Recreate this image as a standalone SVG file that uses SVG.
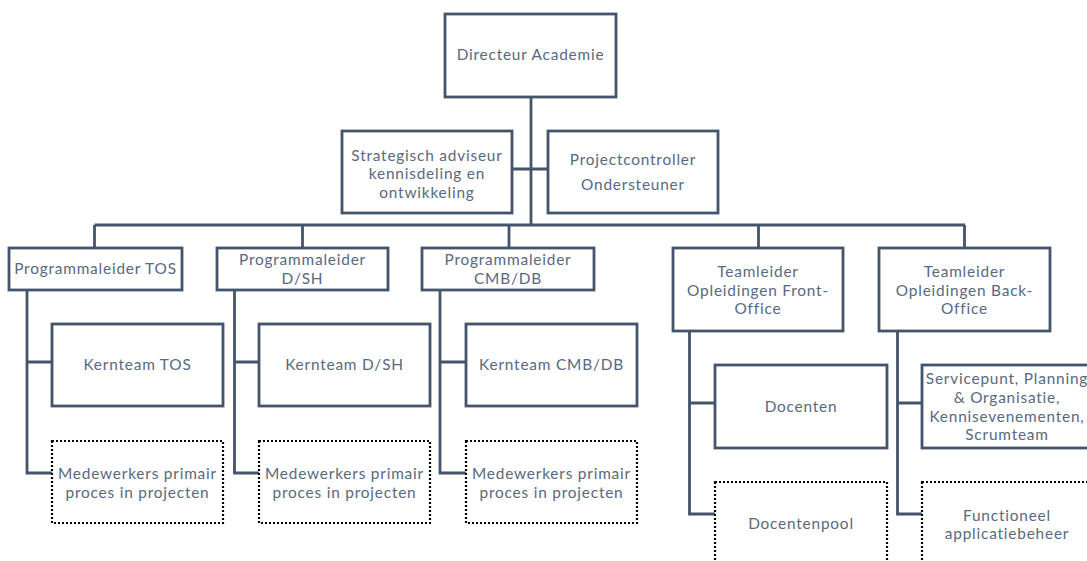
<svg xmlns="http://www.w3.org/2000/svg" width="1087" height="561" viewBox="0 0 1087 561">
<style>
.box{fill:#fff;stroke:#44546A;stroke-width:2.8}
.dot{fill:#fff;stroke:#000;stroke-width:2.2;stroke-dasharray:2 2}
.ln{fill:none;stroke:#44546A;stroke-width:2.8}
text{font-family:Lato,"Open Sans",sans-serif;font-size:15.4px;letter-spacing:0.8px;fill:#59697F;text-anchor:middle}
</style>
<rect width="1087" height="561" fill="#fff"/>
<g id="connectors">
<path class="ln" d="M531 97V226M512 169H548M94.5 225H965M94.5 225V248M302.5 225V248M509 225V248M758.5 225V248M964.5 225V248"/>
<path class="ln" d="M27 290V473H52M27 362H52"/>
<path class="ln" d="M234.5 290V473H259M234.5 362H259"/>
<path class="ln" d="M440 290V473H466M440 362H466"/>
<path class="ln" d="M689.5 331V514H715M689.5 403H715"/>
<path class="ln" d="M897.5 331V514H922M897.5 403H922"/>
</g>
<g id="n-directeur"><rect class="box" x="445" y="14" width="171" height="83"/><text x="530.5" y="60">Directeur Academie</text></g>
<g id="n-strategisch"><rect class="box" x="342" y="131" width="170" height="82"/><text x="427" y="160.5">Strategisch adviseur</text><text x="427" y="179">kennisdeling en</text><text x="427" y="198">ontwikkeling</text></g>
<g id="n-projectcontroller"><rect class="box" x="548" y="131" width="170" height="82"/><text x="633" y="164.5">Projectcontroller</text><text x="633" y="189.5">Ondersteuner</text></g>
<g id="n-pl-tos"><rect class="box" x="9" y="248" width="173" height="42"/><text x="95.5" y="274">Programmaleider TOS</text></g>
<g id="n-pl-dsh"><rect class="box" x="217" y="248" width="171" height="42"/><text x="302.5" y="265">Programmaleider</text><text x="302.5" y="283.5">D/SH</text></g>
<g id="n-pl-cmb"><rect class="box" x="422" y="248" width="172" height="42"/><text x="508" y="265">Programmaleider</text><text x="508" y="283.5">CMB/DB</text></g>
<g id="n-tl-fo"><rect class="box" x="673" y="248" width="170" height="83"/><text x="758" y="276.5">Teamleider</text><text x="758" y="295.5">Opleidingen Front-</text><text x="758" y="314">Office</text></g>
<g id="n-tl-bo"><rect class="box" x="879" y="248" width="171" height="83"/><text x="964.5" y="276.5">Teamleider</text><text x="964.5" y="295.5">Opleidingen Back-</text><text x="964.5" y="314">Office</text></g>
<g id="n-kt-tos"><rect class="box" x="52" y="324" width="171" height="82"/><text x="137.5" y="370">Kernteam TOS</text></g>
<g id="n-kt-dsh"><rect class="box" x="259" y="324" width="171" height="82"/><text x="344.5" y="370">Kernteam D/SH</text></g>
<g id="n-kt-cmb"><rect class="box" x="466" y="324" width="171" height="82"/><text x="551.5" y="370">Kernteam CMB/DB</text></g>
<g id="n-mw-tos"><rect class="dot" x="52" y="441" width="171" height="82"/><text x="137.5" y="479">Medewerkers primair</text><text x="137.5" y="497.5">proces in projecten</text></g>
<g id="n-mw-dsh"><rect class="dot" x="259" y="441" width="171" height="82"/><text x="344.5" y="479">Medewerkers primair</text><text x="344.5" y="497.5">proces in projecten</text></g>
<g id="n-mw-cmb"><rect class="dot" x="466" y="441" width="171" height="82"/><text x="551.5" y="479">Medewerkers primair</text><text x="551.5" y="497.5">proces in projecten</text></g>
<g id="n-docenten"><rect class="box" x="715" y="365" width="172" height="83"/><text x="801" y="411.5">Docenten</text></g>
<g id="n-servicepunt"><rect class="box" x="922" y="365" width="172" height="83"/><text x="1007" y="384">Servicepunt, Planning</text><text x="1007" y="402.5">&amp; Organisatie,</text><text x="1007" y="421.5">Kennisevenementen,</text><text x="1007" y="440">Scrumteam</text></g>
<g id="n-docentenpool"><rect class="dot" x="715" y="482" width="172" height="83"/><text x="801" y="528.5">Docentenpool</text></g>
<g id="n-fab"><rect class="dot" x="922" y="482" width="172" height="83"/><text x="1007" y="520.5">Functioneel</text><text x="1007" y="539">applicatiebeheer</text></g>
</svg>
